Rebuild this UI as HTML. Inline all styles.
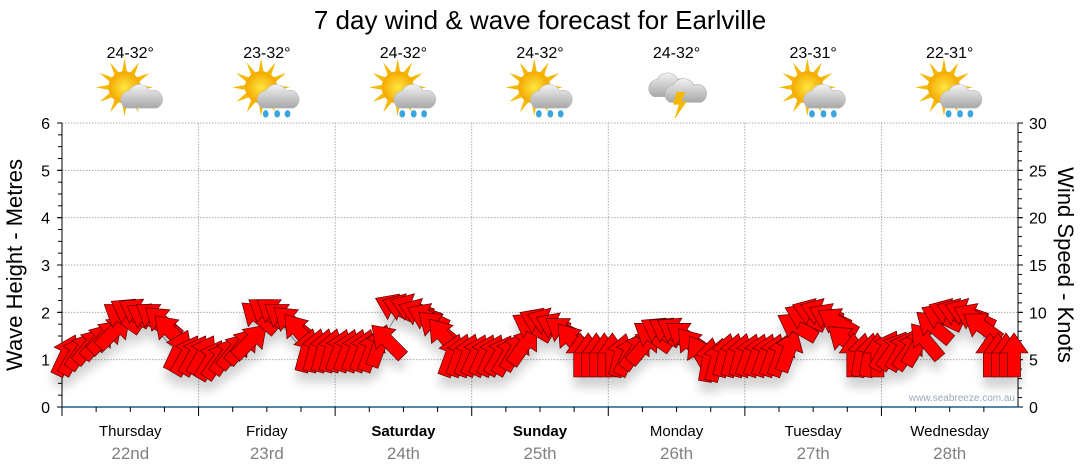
<!DOCTYPE html>
<html><head><meta charset="utf-8"><style>
body{margin:0;background:#fff;}
svg{display:block;font-family:"Liberation Sans",sans-serif;}
</style></head><body>
<svg id="c" width="1080" height="475" viewBox="0 0 1080 475">
<defs>
<filter id="sh" x="-50%" y="-50%" width="200%" height="200%"><feGaussianBlur in="SourceAlpha" stdDeviation="5"/><feOffset dx="0" dy="10"/><feComponentTransfer><feFuncA type="linear" slope="0.18"/></feComponentTransfer><feMerge><feMergeNode/><feMergeNode in="SourceGraphic"/></feMerge></filter>
<radialGradient id="sun" cx="0.5" cy="0.5" r="0.5"><stop offset="0" stop-color="#ffe640"/><stop offset="1" stop-color="#f3a800"/></radialGradient>
<linearGradient id="cl" x1="0" y1="0" x2="0" y2="1"><stop offset="0" stop-color="#f2f2f2"/><stop offset="1" stop-color="#a8a8a8"/></linearGradient>
</defs>
<text x="540" y="29" text-anchor="middle" font-size="26" fill="#000">7 day wind &amp; wave forecast for Earlville</text>
<g id="grid"></g><g id="axes"></g><g id="header"></g>
<text x="1015" y="401" text-anchor="end" font-size="10" fill="#9aa8b8">www.seabreeze.com.au</text>
<g id="marks"></g>
<text transform="translate(22,265) rotate(-90)" text-anchor="middle" font-size="22" fill="#000">Wave Height - Metres</text>
<text transform="translate(1058,265) rotate(90)" text-anchor="middle" font-size="22" fill="#000">Wind Speed - Knots</text>
</svg>
<script>
const days=["Thursday","Friday","Saturday","Sunday","Monday","Tuesday","Wednesday"];
const dates=["22nd","23rd","24th","25th","26th","27th","28th"];
const temps=["24-32°","23-32°","24-32°","24-32°","24-32°","23-31°","22-31°"];
const icons=["cloud","rain","rain","rain","storm","rain","rain"];
const waveTicks=[0,1,2,3,4,5,6];
const windTicks=[0,5,10,15,20,25,30];
const windDir=[25,30,35,40,40,45,45,-55,-60,-60,-60,-55,-50,-45,25,30,30,
30,30,35,35,40,40,45,-50,-55,-55,-55,-50,-40,15,15,15,15,
20,20,20,20,20,20,-45,-65,-70,-70,-70,-65,-50,-40,20,20,20,
25,25,25,30,30,30,35,-60,-65,-70,-65,-55,-40,0,0,0,0,
0,15,25,35,40,-55,-60,-60,-60,-55,-40,-30,10,15,15,15,15,
20,20,20,20,20,20,-60,-65,-70,-70,-65,-60,-50,0,10,10,0,
30,35,30,35,30,-40,-50,-65,-70,-70,-70,-65,-55,0,0,0,0];
const windSpeed=[5.5,5.5,6,6.5,7,7.5,8,9.5,10,10,9.5,9.5,9,8,6,5.5,5.5,
5.5,5,5,5.5,6,6.5,7,9.5,10,10,9.5,9,8,6,6,6,6,
6,6,6,6,6,6.5,7,10.5,10.5,10.5,10,9.5,8.5,7.5,5.5,5.5,5.5,
5.5,5.5,5.5,5.5,5.5,6,6.5,8.5,9,9,8.5,8,7,5.5,5.5,5.5,5.5,
5.5,5.5,5.5,6,6.5,7.5,8,8,8,7.5,6.5,5.5,5,5,5.5,5.5,5.5,
5.5,5.5,5.5,5.5,5.5,6,8.5,9.5,10,10,9.5,9,7,5.5,5.5,5.5,5.5,
6,6,6,6,6.5,7,8.5,9.5,10,10,10,9.5,8.5,5.5,5.5,5.5,5.5];
const waveHeight=[1.1,1.1,1.2,1.3,1.4,1.5,1.6,1.8,1.9,1.9,1.8,1.7,1.5,1.3,1.2,1.1,1.1,
1.0,1.0,1.0,1.1,1.2,1.3,1.5,1.7,1.8,1.8,1.7,1.5,1.3,1.2,1.2,1.2,1.2,
1.2,1.2,1.2,1.2,1.3,1.4,1.6,1.9,2.0,2.0,1.9,1.8,1.6,1.4,1.2,1.1,1.1,
1.1,1.1,1.1,1.1,1.1,1.2,1.4,1.6,1.7,1.7,1.6,1.5,1.3,1.1,1.1,1.1,1.1,
1.1,1.1,1.1,1.2,1.3,1.4,1.5,1.5,1.5,1.4,1.3,1.1,1.0,1.0,1.1,1.1,1.1,
1.1,1.1,1.1,1.1,1.1,1.2,1.5,1.7,1.8,1.8,1.7,1.6,1.4,1.1,1.1,1.1,1.1,
1.2,1.2,1.2,1.2,1.3,1.4,1.6,1.8,1.9,1.9,1.9,1.8,1.6,1.1,1.1,1.1,1.1];

const NS="http://www.w3.org/2000/svg";
const X0=62,X1=1018,Y0=407,Y1=123;
const yWave=v=>Y0-(v/6)*(Y0-Y1);
const yWind=v=>Y0-(v/30)*(Y0-Y1);
const dayW=(X1-X0)/7;
const xIdx=i=>X0+(i+0.5)*(X1-X0)/windSpeed.length;
function mk(tag,attrs,parent){const e=document.createElementNS(NS,tag);for(const k in attrs)e.setAttribute(k,attrs[k]);parent.appendChild(e);return e;}
const grid=document.getElementById('grid'),axes=document.getElementById('axes'),header=document.getElementById('header'),marks=document.getElementById('marks');

waveTicks.forEach(v=>{
  if(v>0){const l=mk('line',{x1:X0,x2:X1,y1:yWave(v),y2:yWave(v),stroke:'#aaa','stroke-dasharray':'1.5,1.5'},grid);
  
  }
  const t=mk('text',{x:X0-12,y:yWave(v)+6,'text-anchor':'end','font-size':16,fill:'#000'},axes);t.textContent=v;
  
  
  mk('line',{x1:X0-5,x2:X0,y1:yWave(v),y2:yWave(v),stroke:'#000'},axes);
});
for(let m=0;m<=24;m++){mk('line',{x1:X0-4,x2:X0,y1:yWave(m/4),y2:yWave(m/4),stroke:'#000'},axes);}
windTicks.forEach(v=>{
  const t=mk('text',{x:X1+11,y:yWind(v)+6,'font-size':16,fill:'#000'},axes);t.textContent=v;
  
  
  mk('line',{x1:X1,x2:X1+5,y1:yWind(v),y2:yWind(v),stroke:'#000'},axes);
});
for(let m=0;m<=30;m++){mk('line',{x1:X1,x2:X1+4,y1:yWind(m),y2:yWind(m),stroke:'#000'},axes);}
mk('line',{x1:X0,x2:X0,y1:Y1,y2:Y0,stroke:'#000'},axes);
mk('line',{x1:X1,x2:X1,y1:Y1,y2:Y0,stroke:'#000'},axes);
mk('line',{x1:X0,x2:X1,y1:Y0,y2:Y0,stroke:'#1b5e8c','stroke-width':1.5},axes);

days.forEach((d,i)=>{
  const xs=X0+i*dayW, cx=xs+dayW/2;
  if(i>0){const l=mk('line',{x1:xs,x2:xs,y1:Y1,y2:Y0,stroke:'#aaa','stroke-dasharray':'1.5,1.5'},grid);
  
  }
  mk('line',{x1:xs,x2:xs,y1:Y0,y2:Y0+9,stroke:'#000'},axes);
  for(let k=1;k<4;k++)mk('line',{x1:xs+k*dayW/4,x2:xs+k*dayW/4,y1:Y0,y2:Y0+5,stroke:'#000'},axes);
  const t=mk('text',{x:cx,y:436,'text-anchor':'middle','font-size':15,fill:'#000','font-weight':(i==2||i==3)?'bold':'normal'},axes);t.textContent=d;
  
  
  const dt=mk('text',{x:cx,y:459,'text-anchor':'middle','font-size':17,fill:'#808080'},axes);dt.textContent=dates[i];
  
  
  const tt=mk('text',{x:cx,y:58,'text-anchor':'middle','font-size':16,fill:'#000'},header);tt.textContent=temps[i];
  
  
  const g=mk('g',{transform:`translate(${cx},${92}) scale(1.15)`},header);
  
  
  if(icons[i]!='storm'){
    for(let r=0;r<12;r++){const a=r*30;mk('polygon',{points:'-2.5,-12 0,-25 2.5,-12',fill:'#f5b800',transform:`translate(-5,-4) rotate(${a})`},g);}
    mk('circle',{cx:-5,cy:-4,r:14,fill:'url(#sun)'},g);
    mk('path',{d:'M-4,14 a8,8 0 0 1 3,-15 a10,10 0 0 1 18,0 a8,8 0 0 1 6,15 z',fill:'url(#cl)',stroke:'#bbb','stroke-width':0.5},g);
    if(icons[i]=='rain'){[[-1,19],[9,19],[18,19]].forEach(p=>mk('ellipse',{cx:p[0],cy:p[1],rx:2.5,ry:3.2,fill:'#3aa6e0'},g));}
  } else {
    mk('path',{d:'M-20,4 a8,8 0 0 1 3,-15 a10,10 0 0 1 18,0 a8,8 0 0 1 6,15 z',fill:'url(#cl)',stroke:'#aaa','stroke-width':0.5},g);
    mk('path',{d:'M-6,9 a8,8 0 0 1 3,-15 a10,10 0 0 1 18,0 a8,8 0 0 1 6,15 z',fill:'url(#cl)',stroke:'#aaa','stroke-width':0.5},g);
    mk('polygon',{points:'0,0 8,0 4,8 9,8 -2,24 2,11 -3,11',fill:'#f5b800'},g);
  }
});

let d='';waveHeight.forEach((v,i)=>{d+=(i?'L':'M')+xIdx(i)+','+yWave(v);});
const wl=mk('path',{d:d,fill:'none',stroke:'#999','stroke-width':1},marks);


const ag=mk('g',{filter:'url(#sh)'},marks);


windSpeed.forEach((v,i)=>{
  const a=mk('polygon',{points:'0,-22 14,-2 6.5,-2 6.5,22 -6.5,22 -6.5,-2 -14,-2',fill:'#ff0000',stroke:'#5a0000','stroke-width':0.7,'stroke-linejoin':'miter',
    transform:`translate(${xIdx(i)},${yWind(v)}) rotate(${windDir[i]})`},ag);
  
  
});
</script>
</body></html>
